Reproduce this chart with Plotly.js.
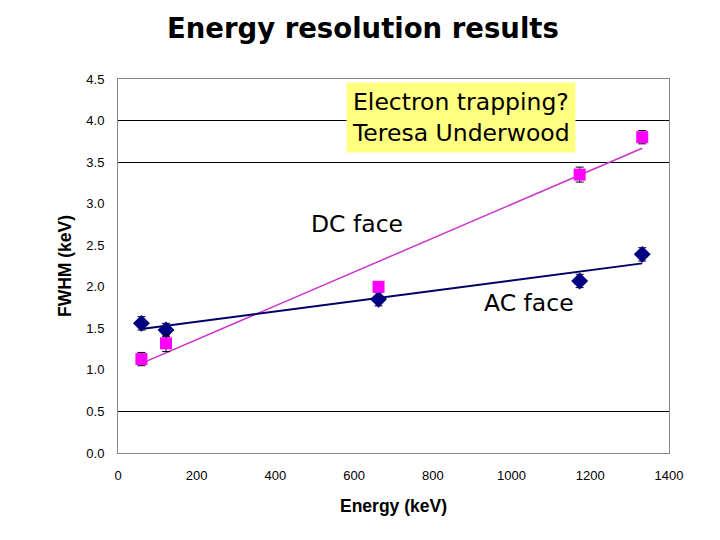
<!DOCTYPE html>
<html><head><meta charset="utf-8">
<script src="https://cdn.plot.ly/plotly-3.0.1.min.js"></script>
<style>body{margin:0;background:#fff}#c{width:720px;height:540px}</style>
</head><body><div id="c"></div>
<script>
const energy = [59.5, 122, 662, 1173, 1332];
const dcFwhm = [1.13, 1.32, 2.00, 3.35, 3.80];
const dcErr  = [0.08, 0.10, 0.05, 0.09, 0.08];
const acFwhm = [1.56, 1.48, 1.85, 2.07, 2.39];
const acErr  = [0.08, 0.08, 0.08, 0.08, 0.08];
const yTicks = [0, 0.5, 1, 1.5, 2, 2.5, 3, 3.5, 4, 4.5];
const xTicks = [0, 200, 400, 600, 800, 1000, 1200, 1400];
const gridVals = [0.5, 3.5, 4.0];

function fit(x, y) {
  const n = x.length;
  const mx = x.reduce((a,b)=>a+b,0)/n, my = y.reduce((a,b)=>a+b,0)/n;
  let sxy = 0, sxx = 0;
  for (let i=0;i<n;i++){ sxy += (x[i]-mx)*(y[i]-my); sxx += (x[i]-mx)**2; }
  const m = sxy/sxx, b = my - m*mx;
  const xs = [x[0], x[n-1]];
  return {x: xs, y: xs.map(v=>m*v+b)};
}
const dcFit = fit(energy, dcFwhm);
const acFit = fit(energy, acFwhm);

const traces = [
  {x: dcFit.x, y: dcFit.y, mode:'lines', line:{color:'#CC33CC', width:1.5}, hoverinfo:'skip'},
  {x: acFit.x, y: acFit.y, mode:'lines', line:{color:'#000066', width:2}, hoverinfo:'skip'},
  {x: energy, y: acFwhm, mode:'markers', marker:{symbol:'diamond', size:13, color:'#000080'},
   error_y:{type:'data', array: acErr, color:'#000000', thickness:1, width:4}},
  {x: energy, y: dcFwhm, mode:'markers', marker:{symbol:'square', size:12, color:'#FF00FF'},
   error_y:{type:'data', array: dcErr, color:'#000000', thickness:1, width:4}},
  {x: [energy[0]], y: [dcFwhm[0]], yaxis:'y2', mode:'markers', marker:{opacity:0}, hoverinfo:'skip'}
];

const layout = {
  width: 720, height: 540,
  margin: {l:118, r:51, t:79, b:87},
  paper_bgcolor:'#fff', plot_bgcolor:'#fff',
  showlegend:false,
  font: {family:'Liberation Sans, Arial', color:'#000'},
  title: {text:'<b>Energy resolution results</b>', x:0.504, xanchor:'center', y:0.948, yanchor:'middle',
          font:{family:'DejaVu Sans, Verdana', size:27.5, color:'#000'}},
  xaxis: {range:[0,1400], tickvals:xTicks, ticktext:xTicks.map(String), showgrid:false, zeroline:false,
          showline:true, mirror:true, linecolor:'#888', linewidth:1, ticks:'', tickfont:{size:13},
          ticklabelstandoff:10,
          title:{text:'<b>Energy (keV)</b>', font:{size:17.5}, standoff:18}},
  yaxis: {range:[0,4.5], tickvals:yTicks, ticktext:yTicks.map(v=>v.toFixed(1)), showgrid:false, zeroline:false,
          showline:true, mirror:true, linecolor:'#888', linewidth:1, ticks:'', tickfont:{size:13},
          ticklabelstandoff:10,
          title:{text:'<b>FWHM (keV)</b>', font:{size:17.5}, standoff:10}},
  yaxis2: {range:[0,4.5], overlaying:'y', tickvals:gridVals, showticklabels:false, showgrid:true,
           gridcolor:'#000', gridwidth:1, zeroline:false, ticks:''},
  annotations: [
    {xref:'x', yref:'y', x:872, y:4.04, text:'Electron trapping?<br>Teresa Underwood', showarrow:false,
     align:'left', bgcolor:'#FFFF80', borderpad:5, font:{family:'DejaVu Sans, Verdana', size:23.5, color:'#000'}},
    {xref:'x', yref:'y', x:607, y:2.75, text:'DC face', showarrow:false,
     font:{family:'DejaVu Sans, Verdana', size:23.5, color:'#000'}},
    {xref:'x', yref:'y', x:1043, y:1.80, text:'AC face', showarrow:false,
     font:{family:'DejaVu Sans, Verdana', size:23.5, color:'#000'}}
  ]
};
Plotly.newPlot('c', traces, layout, {displayModeBar:false, staticPlot:true});
</script></body></html>
